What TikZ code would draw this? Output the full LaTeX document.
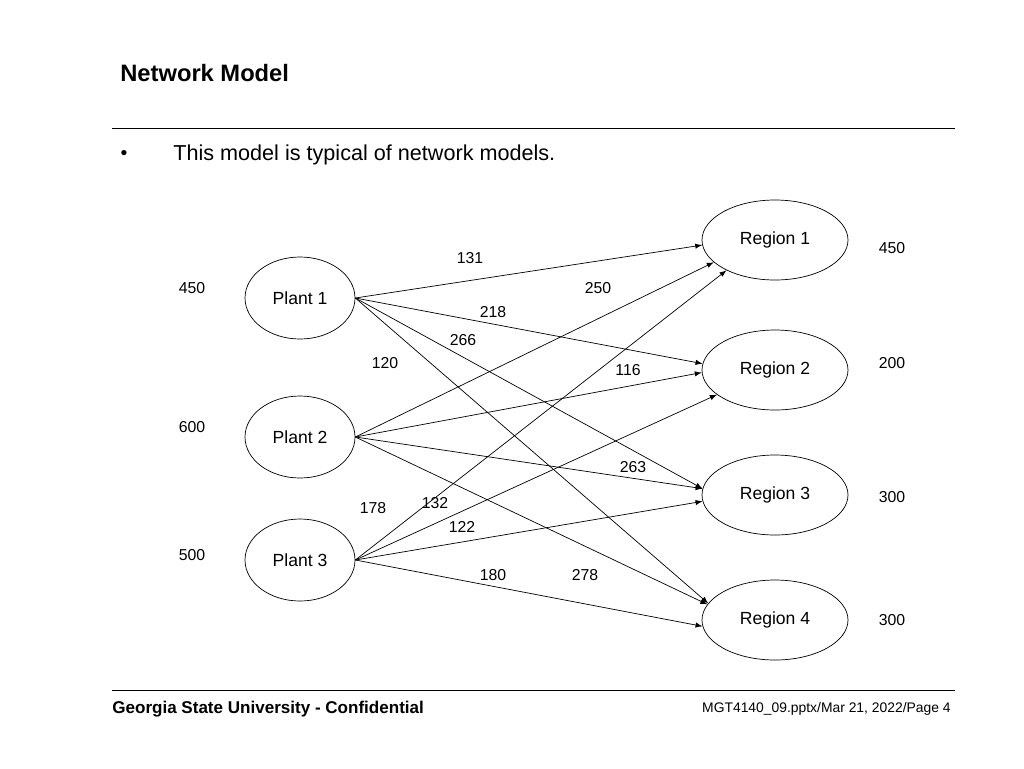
\documentclass[tikz,border=0pt]{standalone}
\usepackage{fontspec}
\setmainfont{Liberation Sans}
\usetikzlibrary{shapes.geometric}

\tikzset{
	plantnode/.style={ellipse,draw,minimum width=110*0.02cm,minimum height=82*0.02cm,font=\fontsize{10}{12}\selectfont},
	regionnode/.style={ellipse,draw,minimum width=146*0.02cm,minimum height=80*0.02cm,font=\fontsize{10}{12}\selectfont},
	flow/.style={-latex},
	num/.style={font=\fontsize{9}{11}\selectfont,inner sep=1pt}
}

\begin{document}
\begin{tikzpicture}[x=0.02cm,y=-0.02cm]
	\useasboundingbox (0,0) rectangle (1024,768);
	% Header and footer
	\node[anchor=west,inner sep=0pt,font=\bfseries\fontsize{13.5}{16}\selectfont] (title) at (120,73) {Network Model};
	\draw (112,128) -- (955,128);
	\node (bullet) at (124,155) {\fontsize{11}{13}\selectfont•};
	\node[anchor=west,inner sep=0pt,font=\fontsize{12.3}{14}\selectfont] (intro) at (173,155) {This model is typical of network models.};
	\draw (112,690) -- (955,690);
	\node[anchor=west,inner sep=0pt,font=\bfseries\fontsize{9.7}{11}\selectfont] (footl) at (112,709) {Georgia State University - Confidential};
	\node[anchor=east,inner sep=0pt,font=\fontsize{7.9}{9}\selectfont] (footr) at (951,709) {MGT4140\_09.pptx/Mar 21, 2022/Page 4};

	% Plants
	\node[plantnode] (p1) at (300,298) {Plant 1};
	\node[plantnode] (p2) at (300,437) {Plant 2};
	\node[plantnode] (p3) at (300,560) {Plant 3};
	% Regions
	\node[regionnode] (r1) at (775,240) {Region 1};
	\node[regionnode] (r2) at (775,370) {Region 2};
	\node[regionnode] (r3) at (775,495) {Region 3};
	\node[regionnode] (r4) at (775,620) {Region 4};

	% Arcs
	\foreach \p/\r/\a/\b in {p1/r1/0/-176, p1/r2/0/175, p1/r3/0/175, p1/r4/0/166,
		p2/r1/0/-160, p2/r2/0/-178, p2/r3/0/175, p2/r4/0/167,
		p3/r1/0/-148, p3/r2/0/-157, p3/r3/0/-175, p3/r4/0/-175}
		\draw[flow] (\p.\a) -- (\r.\b);

	% Costs
	\node[num] (c11) at (470,258) {131};
	\node[num] (c21) at (598,288) {250};
	\node[num] (c12) at (493,312) {218};
	\node[num] (c13) at (463,340) {266};
	\node[num] (c14) at (385,363) {120};
	\node[num] (c22) at (628,370) {116};
	\node[num] (c23) at (633,467) {263};
	\node[num] (c31) at (373,508) {178};
	\node[num] (c24) at (435,503) {132};
	\node[num] (c32) at (462,527) {122};
	\node[num] (c33) at (493,575) {180};
	\node[num] (c34) at (585,575) {278};

	% Supplies and demands
	\node[num] (s1) at (192,288) {450};
	\node[num] (s2) at (192,427) {600};
	\node[num] (s3) at (192,555) {500};
	\node[num] (d1) at (892,248) {450};
	\node[num] (d2) at (892,363) {200};
	\node[num] (d3) at (892,497) {300};
	\node[num] (d4) at (892,620) {300};
\end{tikzpicture}
\end{document}
